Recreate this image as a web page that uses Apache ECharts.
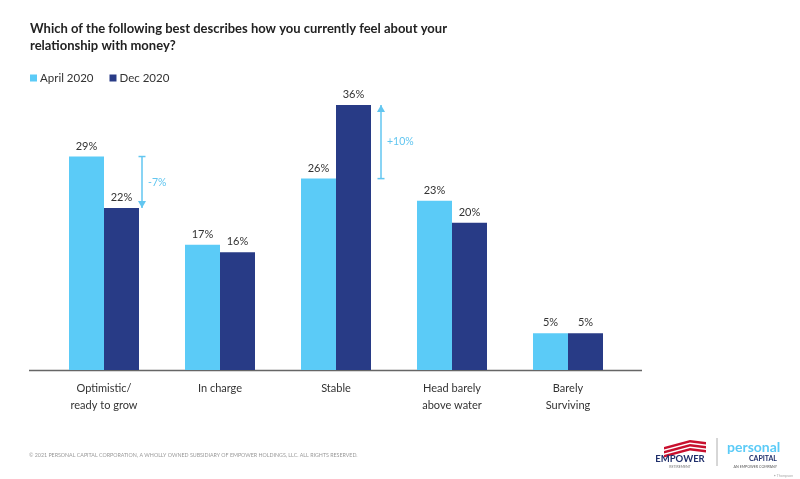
<!DOCTYPE html>
<html><head><meta charset="utf-8">
<script src="https://cdn.jsdelivr.net/npm/echarts@6/dist/echarts.min.js"></script>
<style>html,body{margin:0;padding:0;background:#fff}#c{width:800px;height:479px}</style>
</head><body><div id="c"></div>
<script>
var categories = ['Optimistic/\nready to grow', 'In charge', 'Stable', 'Head barely\nabove water', 'Barely\nSurviving'];
var april2020 = [29, 17, 26, 23, 5];
var dec2020 = [22, 16, 36, 20, 5];
var seriesNames = ['April 2020', 'Dec 2020'];
var changeNotes = [{cat: 0, from: 29, to: 22, text: '-7%'}, {cat: 2, from: 26, to: 36, text: '+10%'}];

var FONT = 'Lato, "Open Sans", sans-serif';
var LIGHT = '#5BCBF7', DARK = '#283B86', ARROW = '#62C6F0';
var chart = echarts.init(document.getElementById('c'));
var labelOpt = {show: true, position: 'top', distance: 5, formatter: '{c}%', color: '#333', fontSize: 11, fontFamily: FONT};
chart.setOption({
  animation: false,
  backgroundColor: '#fff',
  title: {text: 'Which of the following best describes how you currently feel about your\nrelationship with money?', left: 30, top: 20, padding: 0,
    textStyle: {fontSize: 13, fontWeight: 'bold', color: '#222', fontFamily: FONT, lineHeight: 17}},
  legend: {left: 30, top: 72, padding: 0, itemWidth: 7, itemHeight: 7, itemGap: 16, icon: 'rect',
    textStyle: {fontSize: 11.5, color: '#333', fontFamily: FONT, padding: [0, 0, 0, -2]}, data: seriesNames},
  grid: {left: 46, width: 580, top: 105, height: 265},
  xAxis: {type: 'category', data: categories, axisLine: {show: false}, axisTick: {show: false},
    axisLabel: {color: '#333', fontSize: 11, fontFamily: FONT, lineHeight: 17, margin: 10}},
  yAxis: {type: 'value', min: 0, max: 36, show: false, splitLine: {show: false}},
  series: [
    {name: seriesNames[0], type: 'bar', data: april2020, barWidth: 35, barGap: '0%', itemStyle: {color: LIGHT}, label: labelOpt},
    {name: seriesNames[1], type: 'bar', data: dec2020, barWidth: 35, itemStyle: {color: DARK}, label: labelOpt}
  ]
});

var offsets = [38, 45];
var g = [];
// axis line
g.push({type: 'line', shape: {x1: 29, y1: 370.5, x2: 642, y2: 370.5}, style: {stroke: '#666', lineWidth: 1.5}});
changeNotes.forEach(function (n, i) {
  var p1 = chart.convertToPixel({gridIndex: 0}, [n.cat, n.from]);
  var p2 = chart.convertToPixel({gridIndex: 0}, [n.cat, n.to]);
  var x = p1[0] + offsets[i];
  var y1 = p1[1], y2 = p2[1];
  var dir = y2 > y1 ? 1 : -1;
  g.push({type: 'line', shape: {x1: x, y1: y1, x2: x, y2: y2}, style: {stroke: ARROW, lineWidth: 1.5}});
  g.push({type: 'line', shape: {x1: x - 3.5, y1: y1, x2: x + 3.5, y2: y1}, style: {stroke: ARROW, lineWidth: 1.5}});
  g.push({type: 'polygon', shape: {points: [[x - 4, y2 - dir * 7], [x + 4, y2 - dir * 7], [x, y2]]}, style: {fill: ARROW}});
  g.push({type: 'text', x: x + 6, y: (y1 + y2) / 2, style: {text: n.text, fill: ARROW, fontSize: 10.5, fontFamily: FONT, textVerticalAlign: 'middle'}});
});
// footer
g.push({type: 'text', x: 29, y: 455, style: {text: '\u00A9 2021 PERSONAL CAPITAL CORPORATION, A WHOLLY OWNED SUBSIDIARY OF EMPOWER HOLDINGS, LLC. ALL RIGHTS RESERVED.', fill: '#999', fontSize: 5.3, fontFamily: FONT, textVerticalAlign: 'middle'}});
// logos
[0, 4, 8].forEach(function (s) {
  var y = 441 + s;
  g.push({type: 'polygon', shape: {points: [[664, y + 6], [690, y - 1], [706, y + 1], [706, y + 3.5], [690, y + 1.5], [664, y + 8.5]]}, style: {fill: '#C8102E'}});
});
g.push({type: 'text', x: 680, y: 459, style: {text: 'EMPOWER', fill: '#1F2F6B', fontSize: 9.5, fontWeight: 'bold', fontFamily: FONT, textAlign: 'center', textVerticalAlign: 'middle'}});
g.push({type: 'text', x: 680, y: 467, style: {text: 'RETIREMENT', fill: '#777', fontSize: 3.5, fontFamily: FONT, textAlign: 'center', textVerticalAlign: 'middle'}});
g.push({type: 'line', shape: {x1: 717, y1: 438, x2: 717, y2: 466}, style: {stroke: '#999', lineWidth: 0.8}});
g.push({type: 'text', x: 727, y: 447, style: {text: 'personal', fill: '#5BCBF7', fontSize: 14, fontWeight: 'bold', fontFamily: FONT, textVerticalAlign: 'middle'}});
g.push({type: 'text', x: 777, y: 459, style: {text: 'CAPITAL', fill: '#1F2F6B', fontSize: 7, fontWeight: 'bold', fontFamily: FONT, textAlign: 'right', textVerticalAlign: 'middle'}});
g.push({type: 'text', x: 777, y: 467, style: {text: 'AN EMPOWER COMPANY', fill: '#555', fontSize: 3.6, fontFamily: FONT, textAlign: 'right', textVerticalAlign: 'middle'}});
g.push({type: 'text', x: 793, y: 476, style: {text: '\u2022 Thompson', fill: '#aaa', fontSize: 3.5, fontFamily: FONT, textAlign: 'right', textVerticalAlign: 'middle'}});
chart.setOption({graphic: g});
</script></body></html>
